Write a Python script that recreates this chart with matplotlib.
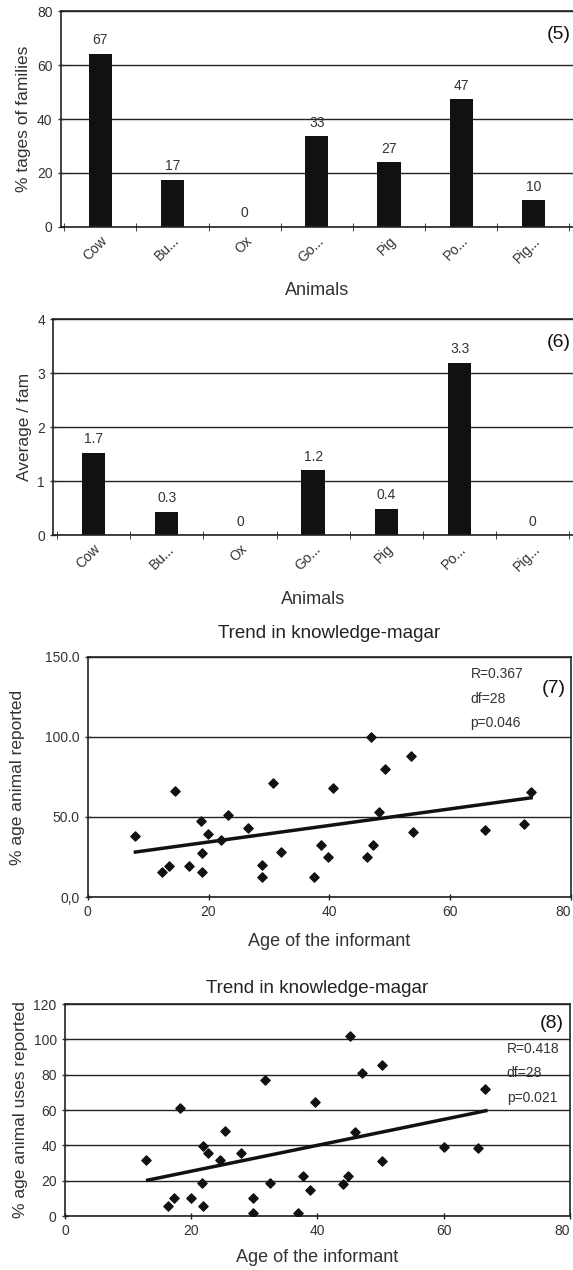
import numpy as np
import matplotlib
matplotlib.use('Agg')
import matplotlib.pyplot as plt

plt.rcParams['font.family'] = ['Liberation Sans', 'DejaVu Sans']

# Bar charts (5) and (6)
animals = ['Cow', 'Bu...', 'Ox', 'Go...', 'Pig', 'Po...', 'Pig...']
pct_families = [64.2, 17.5, 0, 33.7, 24.0, 47.3, 9.8]
pct_labels = ['67', '17', '0', '33', '27', '47', '10']
avg_per_fam = [1.52, 0.43, 0, 1.2, 0.49, 3.19, 0]
avg_labels = ['1.7', '0.3', '0', '1.2', '0.4', '3.3', '0']

# Scatter (7): age vs % animal reported
age7 = [7.9, 12.3, 13.4, 14.4, 16.7, 18.7, 18.9, 18.9, 19.9, 22.0,
        23.2, 26.5, 28.8, 28.8, 30.7, 32.0, 37.5, 38.6, 39.7, 40.6,
        46.2, 46.9, 47.2, 48.3, 49.2, 53.5, 53.8, 65.7, 72.3, 73.4]
known7 = [38.2, 15.6, 19.1, 66.5, 19.3, 47.2, 27.4, 15.6, 39.3, 35.5,
          51.1, 43.4, 20.2, 12.3, 71.5, 28.3, 12.7, 32.2, 24.7, 67.9,
          24.9, 100.0, 32.4, 53.0, 80.2, 88.3, 40.9, 41.6, 45.7, 65.9]
trend7_x = [7.9, 73.4]
trend7_y = [28.1, 62.0]

# Scatter (8): age vs % animal uses reported
age8 = [12.8, 16.3, 17.3, 18.2, 19.9, 21.8, 21.7, 21.8, 22.7, 24.5,
        25.4, 27.9, 29.8, 29.8, 31.7, 32.5, 37.0, 37.7, 38.8, 39.7,
        44.1, 44.9, 45.2, 45.9, 47.0, 50.3, 50.3, 60.1, 65.5, 66.5]
uses8 = [32.0, 5.9, 10.4, 61.1, 10.4, 39.9, 18.9, 5.9, 35.6, 31.6,
         48.3, 35.8, 10.2, 1.9, 77.2, 18.9, 1.9, 22.5, 14.6, 64.4,
         18.4, 22.5, 102.0, 47.7, 81.2, 30.9, 85.4, 38.8, 38.6, 72.1]
trend8_x = [13.1, 66.7]
trend8_y = [20.3, 59.6]

age_ticks = [0, 20, 40, 60, 80]

txt = '#333333'
fig = plt.figure(figsize=(5.73, 12.7), dpi=100)


def style_axes(ax, right=False):
    ax.spines['right'].set_visible(right)
    for s in ['top', 'left', 'bottom', 'right']:
        ax.spines[s].set_color('#222222')
        ax.spines[s].set_linewidth(1.2)
    ax.yaxis.grid(True, color='#222222', linewidth=1.0)
    ax.set_axisbelow(True)
    ax.tick_params(axis='both', colors=txt, labelsize=10, direction='inout',
                   length=5, width=1)
    ax.tick_params(axis='x', colors='#222222', labelcolor=txt)


def bar_panel(rect, values, labels, ymax, ystep, ylabel, tag):
    ax = fig.add_axes(rect)
    x = np.arange(len(animals))
    ax.bar(x, values, width=0.32, color='#111111')
    for xi, v, lab in zip(x, values, labels):
        ax.text(xi, v + ymax * 0.03, lab, ha='center', va='bottom',
                fontsize=10, color=txt)
    ax.set_xlim(-0.55, len(animals) - 0.45)
    ax.set_ylim(0, ymax)
    ax.set_yticks(np.arange(0, ymax + ystep / 2, ystep))
    ax.set_xticks(x)
    ax.set_xticklabels(animals, rotation=45, ha='right', rotation_mode='anchor')
    ax.set_xticks(np.arange(-0.5, len(animals), 1), minor=True)
    style_axes(ax)
    ax.tick_params(axis='x', which='major', length=0, pad=5)
    ax.tick_params(axis='x', which='minor', direction='inout', length=6,
                   color='#222222')
    ax.set_xlabel('Animals', fontsize=13, color=txt, labelpad=12)
    ax.set_ylabel(ylabel, fontsize=12.5, color=txt)
    ax.text(0.995, 0.93, tag, transform=ax.transAxes, ha='right', va='top',
            fontsize=14, color='#111111')
    return ax


def age_axis(ax):
    ax.set_xlim(0, 80)
    ax.set_xticks(age_ticks)
    # last label pulled inside so it is not clipped by the page edge
    ax.get_xticklabels()[-1].set_horizontalalignment('right')


bar_panel([0.106, 0.8215, 0.894, 0.1695], pct_families, pct_labels, 80, 20,
          '% tages of families', '(5)')
bar_panel([0.093, 0.5787, 0.907, 0.1701], avg_per_fam, avg_labels, 4, 1,
          'Average / fam', '(6)')

# Panel (7)
ax7 = fig.add_axes([0.153, 0.2937, 0.8435, 0.189])
ax7.scatter(age7, known7, marker='D', s=22, color='#111111', zorder=3)
ax7.plot(trend7_x, trend7_y, color='#111111', linewidth=2.5, zorder=4)
ax7.set_ylim(0, 150)
ax7.set_yticks([0, 50, 100, 150])
ax7.set_yticklabels(['0,0', '50.0', '100.0', '150.0'])
age_axis(ax7)
style_axes(ax7, right=True)
ax7.set_title('Trend in knowledge-magar', fontsize=13.5, color='#222222', pad=14)
ax7.set_xlabel('Age of the informant', fontsize=13, color=txt, labelpad=10)
ax7.set_ylabel('% age animal reported', fontsize=12.5, color=txt, labelpad=14)
ax7.text(0.792, 0.93, 'R=0.367', transform=ax7.transAxes, fontsize=10,
         color=txt, va='center')
ax7.text(0.792, 0.825, 'df=28', transform=ax7.transAxes, fontsize=10,
         color=txt, va='center')
ax7.text(0.792, 0.725, 'p=0.046', transform=ax7.transAxes, fontsize=10,
         color=txt, va='center')
ax7.text(0.965, 0.87, '(7)', transform=ax7.transAxes, fontsize=14,
         color='#111111', va='center', ha='center')

# Panel (8)
ax8 = fig.add_axes([0.1134, 0.0425, 0.881, 0.1669])
ax8.scatter(age8, uses8, marker='D', s=22, color='#111111', zorder=3)
ax8.plot(trend8_x, trend8_y, color='#111111', linewidth=2.5, zorder=4)
ax8.set_ylim(0, 120)
ax8.set_yticks(np.arange(0, 121, 20))
age_axis(ax8)
style_axes(ax8, right=True)
ax8.set_title('Trend in knowledge-magar', fontsize=13.5, color='#222222', pad=8)
ax8.set_xlabel('Age of the informant', fontsize=13, color=txt, labelpad=8)
ax8.set_ylabel('% age animal uses reported', fontsize=12.5, color=txt)
ax8.text(0.875, 0.79, 'R=0.418', transform=ax8.transAxes, fontsize=10,
         color=txt, va='center')
ax8.text(0.875, 0.675, 'df=28', transform=ax8.transAxes, fontsize=10,
         color=txt, va='center')
ax8.text(0.875, 0.555, 'p=0.021', transform=ax8.transAxes, fontsize=10,
         color=txt, va='center')
ax8.text(0.965, 0.91, '(8)', transform=ax8.transAxes, fontsize=14,
         color='#111111', va='center', ha='center')

fig.savefig('out.png', dpi=100, facecolor='white')
